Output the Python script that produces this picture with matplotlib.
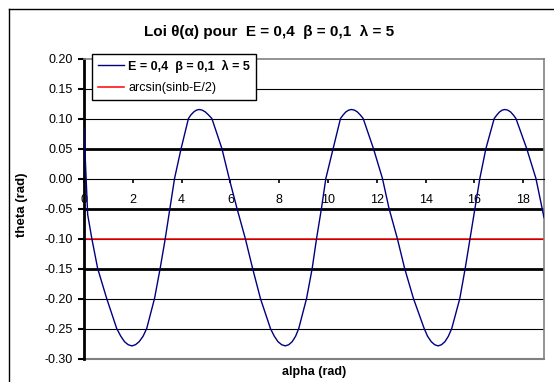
import matplotlib
matplotlib.use("Agg")
import matplotlib.pyplot as plt
from matplotlib.lines import Line2D

plt.rcParams['font.family'] = ['Liberation Sans', 'DejaVu Sans']

# theta(alpha) readings, one cycle after another
alpha = [0.00, 0.15, 0.32, 0.56, 0.93, 1.34, 1.51, 1.66, 1.81, 1.96, 2.11, 2.26, 2.42,
         2.57, 2.89, 3.12, 3.33, 3.52, 3.71, 3.98, 4.28, 4.38, 4.50, 4.61, 4.72, 4.84,
         4.97, 5.10, 5.24, 5.65, 5.95,
         6.27, 6.61, 6.91, 7.23, 7.64, 7.80, 7.95, 8.10, 8.25, 8.39, 8.53, 8.67, 8.80,
         9.12, 9.35, 9.53, 9.73, 9.91, 10.21, 10.51, 10.62, 10.73, 10.85, 10.96, 11.08,
         11.20, 11.32, 11.44, 11.86, 12.23,
         12.50, 12.84, 13.14, 13.50, 13.94, 14.08, 14.23, 14.37, 14.51, 14.65, 14.79,
         14.93, 15.07, 15.40, 15.62, 15.82, 16.02, 16.22, 16.47, 16.81, 16.92, 17.03,
         17.14, 17.25, 17.36, 17.48, 17.59, 17.70, 18.14, 18.52, 18.85]
theta = [0.084, -0.060, -0.100, -0.150, -0.200, -0.250, -0.263, -0.272, -0.277, -0.279,
         -0.277, -0.272, -0.263, -0.250, -0.200, -0.150, -0.100, -0.050, 0.000, 0.050,
         0.100, 0.106, 0.111, 0.114, 0.115, 0.114, 0.111, 0.106, 0.100, 0.050, 0.000,
         -0.050, -0.100, -0.150, -0.200, -0.250, -0.263, -0.272, -0.277, -0.279, -0.277,
         -0.272, -0.263, -0.250, -0.200, -0.150, -0.100, -0.050, 0.000, 0.050, 0.100,
         0.106, 0.111, 0.114, 0.115, 0.114, 0.111, 0.106, 0.100, 0.050, 0.000,
         -0.050, -0.100, -0.150, -0.200, -0.250, -0.263, -0.272, -0.277, -0.279, -0.277,
         -0.272, -0.263, -0.250, -0.200, -0.150, -0.100, -0.050, 0.000, 0.050, 0.100,
         0.106, 0.111, 0.114, 0.115, 0.114, 0.111, 0.106, 0.100, 0.050, 0.000, -0.065]
red_level = -0.10

y_ticks = [0.20, 0.15, 0.10, 0.05, 0.00, -0.05, -0.10, -0.15, -0.20, -0.25, -0.30]
y_labels = ["0.20", "0.15", "0.10", "0.05", "0.00", "-0.05", "-0.10", "-0.15", "-0.20", "-0.25", "-0.30"]
x_ticks = [0, 2, 4, 6, 8, 10, 12, 14, 16, 18]
x_labels = ["0", "2", "4", "6", "8", "10", "12", "14", "16", "18"]
thick_grid = [0.05, -0.05, -0.15]

title = "Loi θ(α) pour  E = 0,4  β = 0,1  λ = 5"
label_curve = "E = 0,4  β = 0,1  λ = 5"
label_red = "arcsin(sinb-E/2)"

W, H = 554, 382
fig = plt.figure(figsize=(W / 100, H / 100), dpi=100)
fig.patch.set_facecolor("white")

# plot area in pixel coordinates
x0, x1, ytop, ybot = 84, 544, 58.5, 358.5
ax = fig.add_axes([x0 / W, 1 - ybot / H, (x1 - x0) / W, (ybot - ytop) / H])
ax.set_xlim(0, 18.85)
ax.set_ylim(-0.30, 0.20)

grey = "#808080"
for v in y_ticks:
    if v in (0.20, -0.30, 0.0):
        continue
    lw = 2.0 if v in thick_grid else 0.8
    ax.axhline(v, color="black", lw=lw, zorder=1)
ax.axhline(-0.30, color=grey, lw=1.5, zorder=1, clip_on=False)

ax.plot(alpha, [red_level] * len(alpha), color="#ff0000", lw=1.1, zorder=2, label=label_red)
ax.plot(alpha, theta, color="#000080", lw=1.0, zorder=3, label=label_curve)

for side in ("top", "right"):
    ax.spines[side].set_color(grey)
    ax.spines[side].set_linewidth(1.2)
ax.spines["left"].set_color("black")
ax.spines["left"].set_linewidth(2.0)
ax.spines["bottom"].set_position(("data", 0))
ax.spines["bottom"].set_color("black")
ax.spines["bottom"].set_linewidth(0.8)

ax.set_yticks(y_ticks)
ax.set_yticklabels(y_labels)
ax.set_xticks(x_ticks)
ax.set_xticklabels(x_labels)
ax.tick_params(axis="y", direction="out", length=4, width=1.5, pad=4, labelsize=9)
ax.tick_params(axis="x", direction="out", length=3, width=1.2, pad=8, labelsize=9)

handles, labels = ax.get_legend_handles_labels()
leg = ax.legend(handles[::-1], labels[::-1], loc="upper left",
                bbox_to_anchor=(92 / W, 1 - 54 / H), bbox_transform=fig.transFigure,
                borderaxespad=0, fancybox=False, framealpha=1, edgecolor="black",
                fontsize=9, handlelength=2.1, handletextpad=0.35, labelspacing=0.75,
                borderpad=0.45)
leg.get_frame().set_linewidth(1.0)
leg.set_zorder(5)
leg.get_texts()[0].set_fontweight("bold")

fig.text(269 / W, 1 - 32 / H, title, ha="center", va="center", fontsize=11, fontweight="bold")
fig.text(314 / W, 1 - 372 / H, "alpha (rad)", ha="center", va="center", fontsize=9, fontweight="bold")
fig.text(22 / W, 1 - 205 / H, "theta (rad)", ha="center", va="center", fontsize=9.5,
         fontweight="bold", rotation=90)

# outer chart frame
fig.add_artist(Line2D([9 / W, 9 / W], [0, 1 - 9 / H], color="black", lw=1.0, transform=fig.transFigure))
fig.add_artist(Line2D([9 / W, 1], [1 - 9 / H, 1 - 9 / H], color="black", lw=1.0, transform=fig.transFigure))

fig.savefig("out.png", dpi=100)
